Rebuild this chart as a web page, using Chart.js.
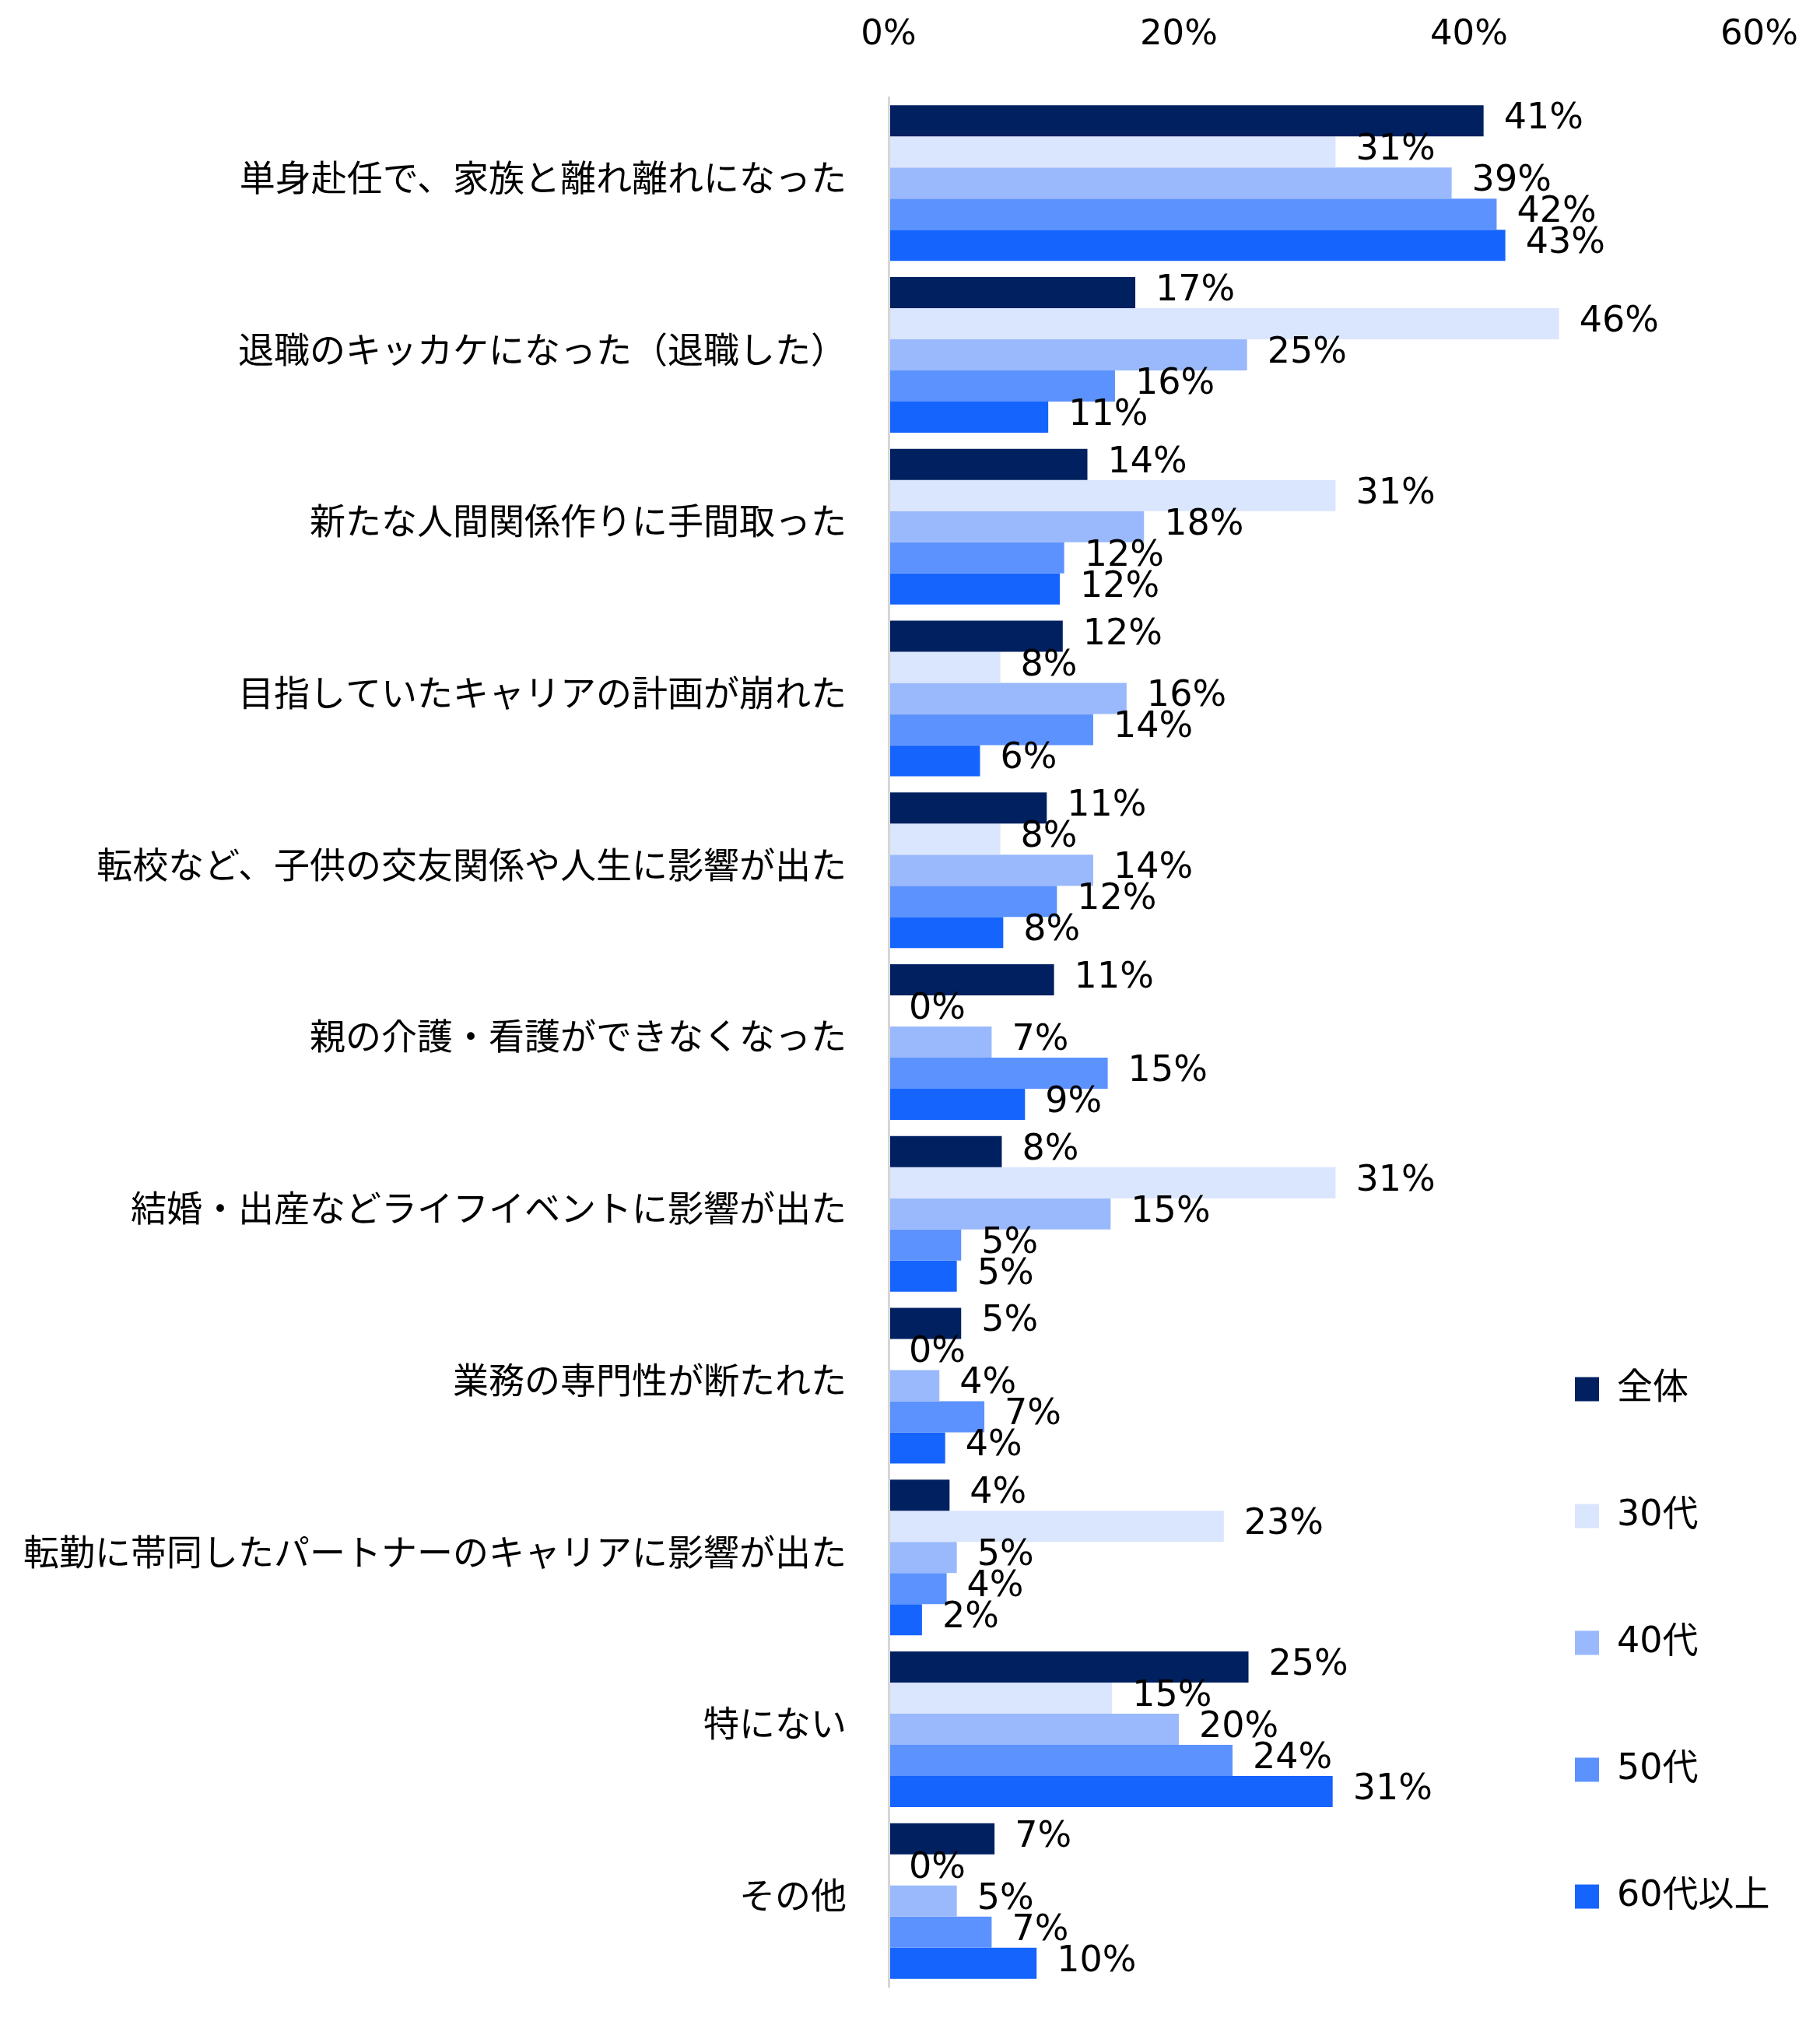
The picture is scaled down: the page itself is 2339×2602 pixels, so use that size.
<!DOCTYPE html>
<html>
<head>
<meta charset="utf-8">
<script src="https://cdn.jsdelivr.net/npm/chart.js@4.4.1/dist/chart.umd.min.js"></script>
<style>
html,body{margin:0;padding:0;background:#fff;overflow:hidden}
#wrap{width:2339px;height:2602px;position:relative}
</style>
</head>
<body>
<div id="wrap"><canvas id="c"></canvas></div>
<script>
const categories = [
  '単身赴任で、家族と離れ離れになった',
  '退職のキッカケになった（退職した）',
  '新たな人間関係作りに手間取った',
  '目指していたキャリアの計画が崩れた',
  '転校など、子供の交友関係や人生に影響が出た',
  '親の介護・看護ができなくなった',
  '結婚・出産などライフイベントに影響が出た',
  '業務の専門性が断たれた',
  '転勤に帯同したパートナーのキャリアに影響が出た',
  '特にない',
  'その他'
];
const seriesNames = ['全体', '30代', '40代', '50代', '60代以上'];
const total = [41.0, 17.0, 13.7, 12.0, 10.9, 11.4, 7.8, 5.0, 4.2, 24.8, 7.3];
const age30 = [30.8, 46.2, 30.8, 7.7, 7.7, 0, 30.8, 0, 23.1, 15.4, 0];
const age40 = [38.8, 24.7, 17.6, 16.4, 14.1, 7.1, 15.3, 3.5, 4.7, 20.0, 4.7];
const age50 = [41.9, 15.6, 12.1, 14.1, 11.6, 15.1, 5.0, 6.6, 4.0, 23.7, 7.1];
const age60 = [42.5, 11.0, 11.8, 6.3, 7.9, 9.4, 4.7, 3.9, 2.3, 30.6, 10.2];
const xTicks = [0, 20, 40, 60];
const seriesColors = ['#002060', '#DAE5FE', '#99B9FC', '#5C92FE', '#1664FE'];

const seriesData = [total, age30, age40, age50, age60];
const numFont = '"DejaVu Sans", "Noto Sans CJK JP", sans-serif';
const jpFont = '"Noto Sans CJK JP", sans-serif';

const valueLabels = {
  id: 'valueLabels',
  afterDatasetsDraw(chart) {
    const ctx = chart.ctx;
    ctx.save();
    ctx.font = '46px ' + numFont;
    ctx.fillStyle = '#000';
    ctx.textAlign = 'left';
    ctx.textBaseline = 'middle';
    chart.data.datasets.forEach((ds, i) => {
      const meta = chart.getDatasetMeta(i);
      meta.data.forEach((el, j) => {
        ctx.fillText(Math.round(ds.data[j]) + '%', el.x + 26, el.y - 2);
      });
    });
    ctx.restore();
  }
};

const legendPlacer = {
  id: 'legendPlacer',
  afterLayout(chart) {
    const lg = chart.legend;
    if (!lg) return;
    lg.left = 1907;
    lg.top = 1645;
    lg.right = chart.width;
    lg.bottom = chart.height;
    lg.width = lg.right - lg.left;
    lg.height = lg.bottom - lg.top;
  }
};

new Chart(document.getElementById('c'), {
  type: 'bar',
  data: {
    labels: categories,
    datasets: seriesNames.map((name, i) => ({
      label: name,
      data: seriesData[i],
      backgroundColor: seriesColors[i],
      borderWidth: 0,
      barPercentage: 1,
      categoryPercentage: 0.906
    }))
  },
  options: {
    indexAxis: 'y',
    responsive: true,
    maintainAspectRatio: false,
    devicePixelRatio: 1,
    animation: false,
    layout: { padding: { top: 16, right: 78, bottom: 49, left: 0 } },
    scales: {
      x: {
        position: 'top',
        min: 0,
        max: 60,
        grid: { display: false, drawTicks: false },
        border: { display: false },
        afterBuildTicks: (s) => { s.ticks = xTicks.map(v => ({ value: v })); },
        afterFit: (s) => {
          s.height = 109;
          s.paddingLeft = 0; s.paddingRight = 0; s.paddingTop = 0; s.paddingBottom = 0;
        },
        ticks: {
          padding: 53,
          color: '#000',
          font: { family: numFont, size: 45 },
          callback: (v) => v + '%'
        }
      },
      y: {
        grid: { display: false, drawTicks: false },
        border: { display: true, color: '#D6D6D6', width: 3, z: 1 },
        afterFit: (s) => {
          s.width = 1142;
          s.paddingLeft = 0; s.paddingRight = 0; s.paddingTop = 0; s.paddingBottom = 0;
        },
        ticks: {
          padding: 54,
          autoSkip: false,
          labelOffset: -8,
          color: '#000',
          font: { family: jpFont, size: 46 }
        }
      }
    },
    plugins: {
      legend: {
        position: 'chartArea',
        align: 'start',
        labels: {
          boxWidth: 31,
          boxHeight: 31,
          padding: 117,
          color: '#000',
          font: { family: numFont, size: 46 }
        }
      },
      tooltip: { enabled: false }
    }
  },
  plugins: [valueLabels, legendPlacer]
});
</script>
</body>
</html>
